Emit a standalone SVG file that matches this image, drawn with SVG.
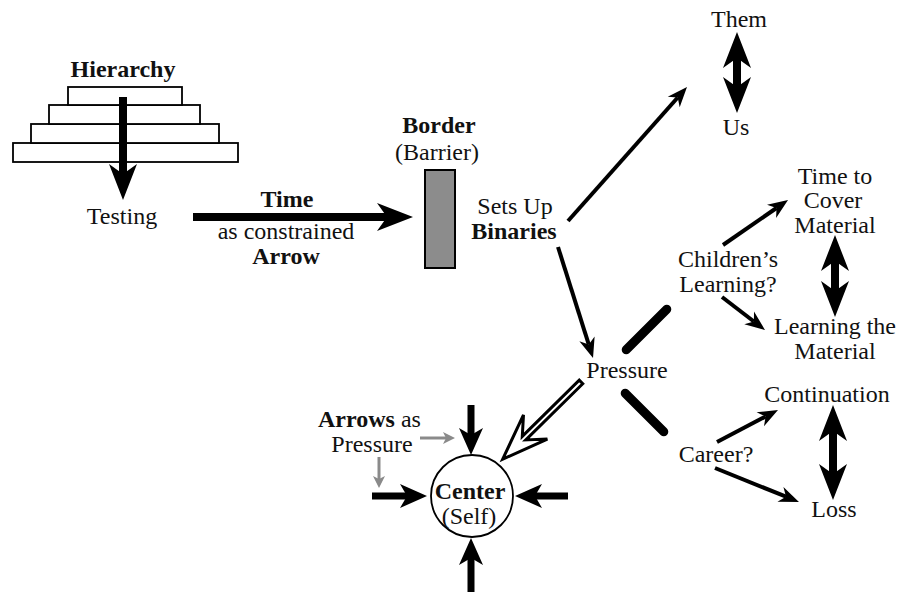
<svg xmlns="http://www.w3.org/2000/svg" width="901" height="592" viewBox="0 0 901 592">
<style>
text{font-family:"Liberation Serif","Times New Roman",serif;font-size:24px;fill:#111;text-anchor:middle}
.b{font-weight:bold}
.st{text-anchor:start}
.tier{fill:#fff;stroke:#000;stroke-width:1.8}
.big{stroke:#000;stroke-width:8;fill:none}
.thin{stroke:#000;stroke-width:4;fill:none}
.mid{stroke:#000;stroke-width:7;fill:none}
.gray{stroke:#8a8a8a;stroke-width:3;fill:none}
.bar{stroke:#000;stroke-width:9;stroke-linecap:round;fill:none}
</style>
<defs>
<marker id="mBig" markerUnits="userSpaceOnUse" viewBox="-12 -16 40 32" markerWidth="40" markerHeight="32" refX="0" refY="0" orient="auto-start-reverse">
<path d="M26,0 L-10,-14 L0,0 L-10,14 Z" fill="#000"/>
</marker>
<marker id="mMid" markerUnits="userSpaceOnUse" viewBox="-9 -14 32 28" markerWidth="32" markerHeight="28" refX="0" refY="0" orient="auto">
<path d="M20,0 L-7,-12 L0,0 L-7,12 Z" fill="#000"/>
</marker>
<marker id="mThin" markerUnits="userSpaceOnUse" viewBox="-8 -10 24 20" markerWidth="24" markerHeight="20" refX="0" refY="0" orient="auto">
<path d="M14,0 L-6,-8 L0,0 L-6,8 Z" fill="#000"/>
</marker>
<marker id="mGray" markerUnits="userSpaceOnUse" viewBox="-5 -8 16 16" markerWidth="16" markerHeight="16" refX="0" refY="0" orient="auto">
<path d="M9,0 L-3,-6 L0,0 L-3,6 Z" fill="#8a8a8a"/>
</marker>
</defs>

<g id="hierarchy">
<text class="b" x="123" y="77">Hierarchy</text>
<rect class="tier" x="13" y="143" width="225" height="19"/>
<rect class="tier" x="31" y="124" width="188" height="19"/>
<rect class="tier" x="49" y="105" width="151" height="19"/>
<rect class="tier" x="68" y="87" width="114" height="18"/>
</g>
<g id="testing"><text x="122" y="224">Testing</text></g>
<g id="time-label">
<text class="b" x="287" y="207">Time</text>
<text x="286" y="239">as constrained</text>
<text class="b" x="286" y="264">Arrow</text>
</g>
<g id="border">
<text class="b" x="439" y="133">Border</text>
<text x="437" y="160">(Barrier)</text>
<rect x="425" y="170" width="30" height="98" fill="#8c8c8c" stroke="#000" stroke-width="2"/>
</g>
<g id="binaries">
<text x="515" y="214">Sets Up</text>
<text class="b" x="514" y="239">Binaries</text>
</g>
<g id="them"><text x="739" y="27">Them</text></g>
<g id="us"><text x="736" y="135">Us</text></g>
<g id="pressure"><text x="627" y="378">Pressure</text></g>
<g id="childrens-learning">
<text x="728" y="267">Children’s</text>
<text x="728" y="292">Learning?</text>
</g>
<g id="time-to-cover">
<text x="835" y="184">Time to</text>
<text x="833" y="208">Cover</text>
<text x="835" y="233">Material</text>
</g>
<g id="learning-material">
<text x="835" y="334">Learning the</text>
<text x="835" y="359">Material</text>
</g>
<g id="career"><text x="716" y="462">Career?</text></g>
<g id="continuation"><text x="827" y="402">Continuation</text></g>
<g id="loss"><text x="834" y="517">Loss</text></g>
<g id="arrows-label">
<text class="st" x="318" y="427"><tspan class="b">Arrows</tspan> as</text>
<text x="372" y="452">Pressure</text>
</g>
<g id="center">
<circle cx="472" cy="496" r="41" fill="#fff" stroke="#000" stroke-width="1.8"/>
<text class="b" x="470" y="499">Center</text>
<text x="469" y="524">(Self)</text>
</g>

<g id="connectors">
<line class="big" x1="123" y1="97" x2="123" y2="174" marker-end="url(#mBig)"/>
<line class="big" x1="193" y1="217" x2="387" y2="217" marker-end="url(#mBig)"/>
<line class="big" x1="737" y1="58" x2="737" y2="87" marker-start="url(#mBig)" marker-end="url(#mBig)"/>
<line class="big" x1="835" y1="261" x2="835" y2="291" marker-start="url(#mBig)" marker-end="url(#mBig)"/>
<line class="big" x1="833" y1="431" x2="833" y2="474" marker-start="url(#mBig)" marker-end="url(#mBig)"/>
<line class="thin" x1="568" y1="221" x2="677.7" y2="97.5" marker-end="url(#mThin)"/>
<line class="thin" x1="558" y1="247" x2="588.8" y2="344.6" marker-end="url(#mThin)"/>
<line class="thin" x1="723" y1="245" x2="776.5" y2="208" marker-end="url(#mThin)"/>
<line class="thin" x1="722" y1="297" x2="753.9" y2="321.5" marker-end="url(#mThin)"/>
<line class="thin" x1="717" y1="442" x2="765.6" y2="416.5" marker-end="url(#mThin)"/>
<line class="thin" x1="715" y1="468" x2="786" y2="496.7" marker-end="url(#mThin)"/>
<line class="bar" x1="626.2" y1="349.8" x2="666.8" y2="309.2"/>
<line class="bar" x1="625.2" y1="393.2" x2="663.8" y2="431.8"/>
<path transform="translate(581,382) rotate(135.4)" d="M0,-2.5 L80,-2.5 L64,-17 L110,0 L64,17 L80,2.5 L0,2.5 Z" fill="#fff" stroke="#000" stroke-width="3" stroke-linejoin="miter"/>
<line class="mid" x1="471" y1="405" x2="471" y2="435" marker-end="url(#mMid)"/>
<line class="mid" x1="372" y1="496" x2="407" y2="496" marker-end="url(#mMid)"/>
<line class="mid" x1="568" y1="496" x2="535" y2="496" marker-end="url(#mMid)"/>
<line class="mid" x1="471" y1="600" x2="471" y2="558" marker-end="url(#mMid)"/>
<line class="gray" x1="420" y1="438" x2="446" y2="438" marker-end="url(#mGray)"/>
<line class="gray" x1="379" y1="457" x2="379" y2="479" marker-end="url(#mGray)"/>
</g>
</svg>
